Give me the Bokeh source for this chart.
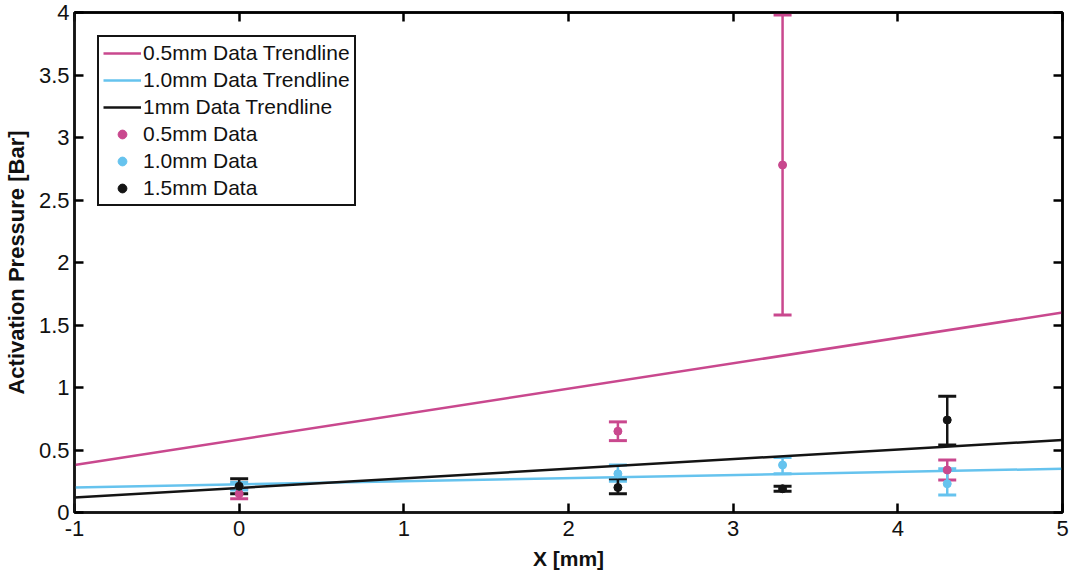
from bokeh.plotting import figure
from bokeh.models import (ColumnDataSource, Whisker, TeeHead, LinearAxis, FixedTicker,
                          NumeralTickFormatter, CustomJSTickFormatter, Range1d, Legend, LegendItem)
from bokeh.embed import file_html
from bokeh.resources import INLINE

# ---- data ----
trend_x = [-1, 5]
trend_05 = [0.38, 1.60]
trend_10 = [0.20, 0.35]
trend_15 = [0.12, 0.58]

x_pts = [0, 2.3, 3.3, 4.3]
d05_mean = [0.15, 0.65, 2.78, 0.34]
d05_low = [0.11, 0.575, 1.58, 0.26]
d05_high = [0.19, 0.725, 3.98, 0.42]

d10_mean = [0.21, 0.31, 0.38, 0.23]
d10_low = [0.18, 0.25, 0.31, 0.14]
d10_high = [0.24, 0.38, 0.44, 0.35]

d15_mean = [0.21, 0.20, 0.19, 0.74]
d15_low = [0.15, 0.15, 0.17, 0.54]
d15_high = [0.27, 0.27, 0.21, 0.93]

x_ticks = [-1, 0, 1, 2, 3, 4, 5]
y_ticks = [0, 0.5, 1, 1.5, 2, 2.5, 3, 3.5, 4]

PINK = "#c9488e"
BLUE = "#66c3ee"
BLACK = "#141414"
FONT = "Liberation Sans"

p = figure(frame_width=988, frame_height=500, output_backend="svg", toolbar_location=None,
           x_range=Range1d(-1, 5), y_range=Range1d(0, 4),
           min_border_left=74, min_border_top=12, min_border_right=8, min_border_bottom=62)
p.grid.visible = False
p.outline_line_color = BLACK
p.outline_line_width = 2.5
p.outline_line_alpha = 1
p.background_fill_color = "white"
p.border_fill_color = "white"

for ax in (p.xaxis[0], p.yaxis[0]):
    ax.axis_line_width = 2.5
    ax.axis_line_color = BLACK
    ax.major_tick_in = 9
    ax.major_tick_out = 0
    ax.minor_tick_line_color = None
    ax.major_tick_line_width = 2.5
    ax.major_label_text_font = FONT
    ax.major_label_text_font_size = "22px"
    ax.major_label_text_color = "#111111"
    ax.axis_label_text_font = FONT
    ax.axis_label_text_font_size = "22px"
    ax.axis_label_text_font_style = "bold"
    ax.axis_label_text_color = "#111111"

p.xaxis[0].ticker = FixedTicker(ticks=x_ticks)
p.yaxis[0].ticker = FixedTicker(ticks=y_ticks)
p.xaxis[0].formatter = NumeralTickFormatter(format="0")
p.yaxis[0].formatter = NumeralTickFormatter(format="0.[0]")
p.xaxis[0].axis_label = "X [mm]"
p.xaxis[0].axis_label_text_font_size = "21px"
p.yaxis[0].axis_label = "Activation Pressure [Bar]"
p.xaxis[0].major_label_standoff = 8
p.yaxis[0].major_label_standoff = 5
p.xaxis[0].axis_label_standoff = 8
p.yaxis[0].axis_label_standoff = 7

blank = CustomJSTickFormatter(code="return ''")
top = LinearAxis(ticker=FixedTicker(ticks=x_ticks), formatter=blank,
                 major_tick_in=9, major_tick_out=0, minor_tick_line_color=None,
                 major_label_standoff=0, axis_line_width=2.5, major_tick_line_width=2.5)
right = LinearAxis(ticker=FixedTicker(ticks=y_ticks), formatter=blank,
                   major_tick_in=9, major_tick_out=0, minor_tick_line_color=None,
                   major_label_standoff=0, axis_line_width=2.5, major_tick_line_width=2.5)
p.add_layout(top, "above")
p.add_layout(right, "right")

# trendlines
l1 = p.line(trend_x, trend_05, line_color=PINK, line_width=2.5)
l2 = p.line(trend_x, trend_10, line_color=BLUE, line_width=2.5)
l3 = p.line(trend_x, trend_15, line_color=BLACK, line_width=2.5)

def err(mean, low, high, color):
    src = ColumnDataSource(dict(x=x_pts, y=mean, lo=low, hi=high))
    w = Whisker(source=src, base="x", upper="hi", lower="lo", line_color=color, line_width=2.5,
                upper_head=TeeHead(size=18, line_color=color, line_width=3),
                lower_head=TeeHead(size=18, line_color=color, line_width=3))
    p.add_layout(w)
    return p.scatter("x", "y", source=src, size=8, color=color)

s1 = err(d05_mean, d05_low, d05_high, PINK)
s2 = err(d10_mean, d10_low, d10_high, BLUE)
s3 = err(d15_mean, d15_low, d15_high, BLACK)

legend = Legend(items=[
    LegendItem(label="0.5mm Data Trendline", renderers=[l1]),
    LegendItem(label="1.0mm Data Trendline", renderers=[l2]),
    LegendItem(label="1mm Data Trendline", renderers=[l3]),
    LegendItem(label="0.5mm Data", renderers=[s1]),
    LegendItem(label="1.0mm Data", renderers=[s2]),
    LegendItem(label="1.5mm Data", renderers=[s3]),
], location="top_left")
legend.label_text_font = FONT
legend.label_text_font_size = "21px"
legend.label_text_color = "#111111"
legend.label_height = 22
legend.glyph_height = 22
legend.glyph_width = 38
legend.spacing = 3
legend.padding = 4
legend.margin = 23
legend.label_standoff = 2
legend.border_line_color = BLACK
legend.border_line_width = 2.5
legend.border_line_alpha = 1
legend.background_fill_alpha = 1
p.add_layout(legend)

open("out.html", "w").write(file_html(p, INLINE))
